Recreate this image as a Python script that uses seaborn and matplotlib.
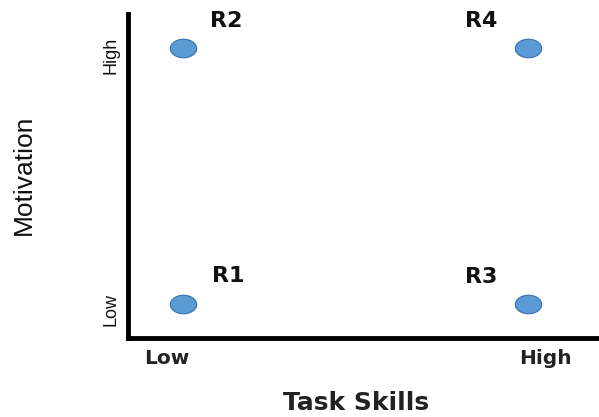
import numpy as np
import pandas as pd
import seaborn as sns
import matplotlib.pyplot as plt
from matplotlib import font_manager
from matplotlib.path import Path

# quadrant data
names = ["R1", "R2", "R3", "R4"]
skills = [0, 0, 1, 1]        # 0 = low, 1 = high
motivation = [0, 1, 0, 1]
x_tick_labels = ["Low", "High"]
y_tick_labels = ["Low", "High"]

df = pd.DataFrame({"name": names, "skills": skills, "motivation": motivation})

sns.set_theme(style="white")
avail = {f.name for f in font_manager.fontManager.ttflist}
narrow = "Liberation Sans"
for cand in ["Liberation Sans Narrow", "DejaVu Sans Condensed"]:
    if cand in avail:
        narrow = cand
        break
plt.rcParams["font.family"] = ["DejaVu Sans"]

# ellipse marker (wider than tall)
t = np.linspace(0, 2 * np.pi, 60)
ellipse = Path(np.column_stack([np.cos(t), 0.7 * np.sin(t)]), closed=True)

fig = plt.figure(figsize=(5.99, 4.17), dpi=100)
ax = fig.add_axes([128 / 599, 1 - 338 / 417, 1 - 128 / 599, (338 - 14) / 417])

sns.scatterplot(data=df, x="skills", y="motivation", ax=ax, marker=ellipse,
                s=360, color="#5b9bd5", edgecolor="#4177b0", linewidth=0.9, zorder=3)

offsets = {"R1": (45, 28), "R2": (43, 27), "R3": (-47, 27), "R4": (-47, 27)}
for _, r in df.iterrows():
    ax.annotate(r["name"], (r["skills"], r["motivation"]), xytext=offsets[r["name"]],
                textcoords="offset pixels", ha="center", va="center",
                fontsize=16, fontweight="bold", color="#111111")

ax.set_xlim(-0.159, 1.206)
ax.set_ylim(-0.133, 1.133)

ax.set_xticks([-0.046, 1.052])
ax.set_xticklabels(x_tick_labels, fontsize=14.5, fontweight="bold", color="#222222")
ax.set_yticks([-0.023, 0.973])
ax.set_yticklabels(y_tick_labels, fontsize=13, rotation=90, va="center",
                   family=narrow, color="#111111")
ax.tick_params(axis="both", length=0)
ax.tick_params(axis="x", pad=8)
ax.tick_params(axis="y", pad=6)

ax.set_xlabel("Task Skills", fontsize=18, fontweight="bold", color="#222222")
ax.xaxis.set_label_coords((356 - 128) / (599 - 128), -(403 - 338) / (338 - 14), transform=ax.transAxes)
ax.set_ylabel("Motivation", fontsize=19, family=narrow, color="#111111")
ax.yaxis.set_label_coords(-(128 - 24) / (599 - 128), (338 - 175) / (338 - 14), transform=ax.transAxes)
ax.xaxis.label.set_va("center")
ax.yaxis.label.set_va("center")

sns.despine(ax=ax, top=True, right=True)
for side in ["left", "bottom"]:
    ax.spines[side].set_linewidth(3.5)
    ax.spines[side].set_color("black")
ax.grid(False)

fig.savefig("out.png", dpi=100)
